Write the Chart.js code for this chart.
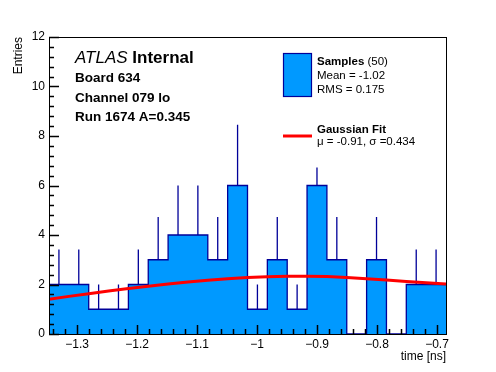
<!DOCTYPE html>
<html lang="en">
<head>
<meta charset="UTF-8">
<title>Board 634 timing</title>
<script src="https://cdn.jsdelivr.net/npm/chart.js"></script>
<style>
    body { margin: 0; background: #fff; }
    canvas { display: block; }
</style>
</head>
<body>
<canvas id="histChart" width="496" height="372"></canvas>
<script>
// histogram binning and contents
var X_MIN = -1.347;
var X_MAX = -0.685;
var BIN_COUNTS = [2, 2, 1, 1, 2, 3, 4, 4, 3, 6, 1, 3, 1, 6, 3, 0, 3, 0, 2, 2];
var BIN_ERRORS = [1.41, 1.41, 1, 1, 1.41, 1.73, 2, 2, 1.73, 2.45, 1, 1.73, 1, 0.73, 1.73, 0, 1.73, 0, 1.41, 1.41];
// gaussian fit read at the bin edges (21 values)
var FIT_VALUES = [1.40, 1.52, 1.63, 1.74, 1.84, 1.93, 2.02, 2.10, 2.17, 2.23, 2.28, 2.31, 2.33, 2.33, 2.32, 2.28, 2.23, 2.18, 2.12, 2.07, 2.02];
var X_TICKS = [-1.3, -1.2, -1.1, -1.0, -0.9, -0.8, -0.7];
var Y_TICKS = [0, 2, 4, 6, 8, 10, 12];

var FONT = "'Liberation Sans', Arial, Helvetica, sans-serif";
var FILL = '#0099ff';
var LINE = '#000099';

var nBins = BIN_COUNTS.length;
var binW = (X_MAX - X_MIN) / nBins;

// stepped outline: one point per left edge + closing point at the right edge
var histPts = [];
for (var i = 0; i < nBins; i++) histPts.push({ x: X_MIN + i * binW, y: BIN_COUNTS[i] });
histPts.push({ x: X_MAX, y: BIN_COUNTS[nBins - 1] });

// error bars, only the upper half shows above the filled bars
var errPts = [];
for (var i = 0; i < nBins; i++) {
    if (!BIN_ERRORS[i]) continue;
    var cx = X_MIN + (i + 0.5) * binW;
    errPts.push({ x: cx, y: BIN_COUNTS[i] });
    errPts.push({ x: cx, y: BIN_COUNTS[i] + BIN_ERRORS[i] });
    errPts.push({ x: cx, y: null });
}

var fitPts = FIT_VALUES.map(function (v, i) { return { x: X_MIN + i * binW, y: v }; });

function fmt(v) {
    var s = (Math.round(Math.abs(v) * 10) / 10).toString();
    return (v < 0 ? '\u2212' : '') + s;
}

// ROOT style frame, minor/major ticks, titles and the text boxes
var rootDecor = {
    id: 'rootDecor',
    afterDraw: function (chart) {
        var ctx = chart.ctx, a = chart.chartArea;
        var xs = chart.scales.x, ys = chart.scales.y;
        var left = Math.round(a.left), bottom = Math.round(a.bottom);
        ctx.save();
        ctx.strokeStyle = '#000';
        ctx.lineWidth = 1;
        ctx.strokeRect(left + 0.5, Math.round(a.top) + 0.5,
            Math.round(a.right - a.left), Math.round(a.bottom - a.top));

        ctx.strokeStyle = '#000';
        ctx.lineWidth = 1.5;
        ctx.beginPath();
        // y ticks every 0.4
        for (var k = 0; k <= 30; k++) {
            var py = Math.round(ys.getPixelForValue(k * 0.4)) + 0.5;
            var len = (k % 5 === 0) ? 10 : 5;
            ctx.moveTo(left, py);
            ctx.lineTo(left + len, py);
        }
        // x ticks every 0.02
        for (var j = Math.ceil(X_MIN / 0.02); j <= Math.floor(X_MAX / 0.02); j++) {
            var px = Math.round(xs.getPixelForValue(j * 0.02)) + 0.5;
            var len2 = (j % 5 === 0) ? 9 : 5;
            ctx.moveTo(px, bottom);
            ctx.lineTo(px, bottom - len2);
        }
        ctx.stroke();

        // axis titles
        ctx.fillStyle = '#000';
        ctx.font = '12px ' + FONT;
        ctx.textAlign = 'right';
        ctx.textBaseline = 'alphabetic';
        ctx.fillText('time [ns]', a.right, 360);
        ctx.save();
        ctx.translate(22, a.top);
        ctx.rotate(-Math.PI / 2);
        ctx.fillText('Entries', 0, 0);
        ctx.restore();

        // ATLAS label
        ctx.textAlign = 'left';
        ctx.font = 'italic 17px ' + FONT;
        ctx.fillText('ATLAS', 75, 63);
        var w = ctx.measureText('ATLAS ').width;
        ctx.font = 'bold 17px ' + FONT;
        ctx.fillText('Internal', 75 + w, 63);
        ctx.font = 'bold 13.5px ' + FONT;
        ctx.fillText('Board 634', 75, 82);
        ctx.fillText('Channel 079 lo', 75, 101.5);
        ctx.fillText('Run 1674 A=0.345', 75, 121);

        // legend
        ctx.fillStyle = FILL;
        ctx.fillRect(283, 53, 29, 44);
        ctx.strokeStyle = LINE;
        ctx.lineWidth = 1.2;
        ctx.strokeRect(283.5, 53.5, 28, 43);
        ctx.fillStyle = '#000';
        ctx.font = 'bold 11.5px ' + FONT;
        ctx.fillText('Samples', 317, 65);
        var w2 = ctx.measureText('Samples ').width;
        ctx.font = '11.5px ' + FONT;
        ctx.fillText('(50)', 317 + w2, 65);
        ctx.fillText('Mean = -1.02', 317, 79);
        ctx.fillText('RMS = 0.175', 317, 93);

        ctx.strokeStyle = '#ff0000';
        ctx.lineWidth = 3;
        ctx.beginPath();
        ctx.moveTo(283, 136); ctx.lineTo(312, 136);
        ctx.stroke();
        ctx.font = 'bold 11.5px ' + FONT;
        ctx.fillText('Gaussian Fit', 317, 132.5);
        ctx.font = '11.5px ' + FONT;
        ctx.fillText('\u03bc = -0.91, \u03c3 =0.434', 317, 145);
        ctx.restore();
    }
};

new Chart(document.getElementById('histChart').getContext('2d'), {
    type: 'line',
    data: {
        datasets: [{
            label: 'Gaussian Fit',
            data: fitPts,
            borderColor: '#ff0000',
            borderWidth: 3,
            pointRadius: 0,
            fill: false
        }, {
            label: 'errors',
            data: errPts,
            borderColor: LINE,
            borderWidth: 1.3,
            pointRadius: 0,
            spanGaps: false,
            fill: false
        }, {
            label: 'Samples',
            data: histPts,
            stepped: 'before',
            borderColor: LINE,
            borderWidth: 1.3,
            backgroundColor: FILL,
            pointRadius: 0,
            fill: 'origin'
        }]
    },
    options: {
        responsive: false,
        animation: false,
        layout: { padding: { top: 37, right: 50, left: 0, bottom: 0 } },
        plugins: { legend: { display: false }, tooltip: { enabled: false } },
        scales: {
            x: {
                type: 'linear',
                min: X_MIN,
                max: X_MAX,
                grid: { display: false, drawTicks: false },
                border: { display: false },
                afterFit: function (s) { s.height = 38; },
                afterBuildTicks: function (s) { s.ticks = X_TICKS.map(function (v) { return { value: v }; }); },
                ticks: {
                    autoSkip: false,
                    maxRotation: 0,
                    padding: 3,
                    color: '#000',
                    font: { family: FONT, size: 12 },
                    callback: function (v) { return fmt(v); }
                }
            },
            y: {
                min: 0,
                max: 12,
                grid: { display: false, drawTicks: false },
                border: { display: false },
                afterFit: function (s) { s.width = 49; },
                afterBuildTicks: function (s) { s.ticks = Y_TICKS.map(function (v) { return { value: v }; }); },
                ticks: {
                    padding: 4,
                    color: '#000',
                    font: { family: FONT, size: 12 }
                }
            }
        }
    },
    plugins: [rootDecor]
});
</script>
</body>
</html>
